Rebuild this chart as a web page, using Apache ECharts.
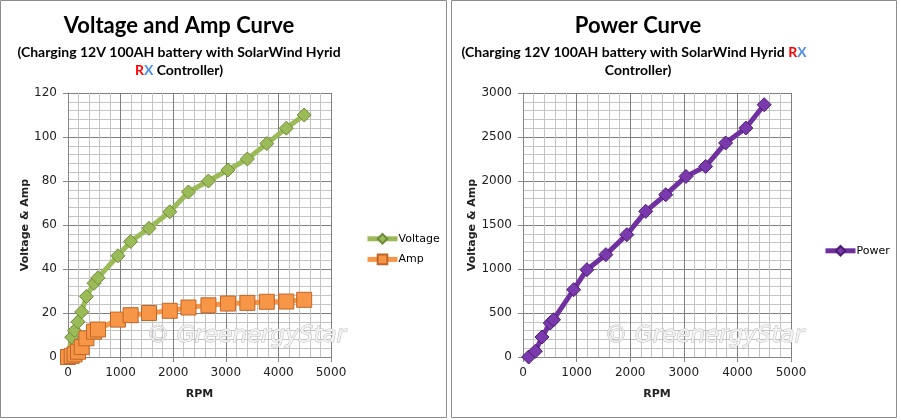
<!DOCTYPE html>
<html><head><meta charset="utf-8">
<script src="https://cdn.jsdelivr.net/npm/echarts@6/dist/echarts.min.js"></script>
<style>html,body{margin:0;padding:0;background:#fff;}#c{width:901px;height:420px;}</style>
</head><body><div id="c"></div>
<script>
// Left chart: RPM vs Voltage and Amp
const rpmVA = [0, 70, 125, 190, 260, 350, 495, 570, 950, 1190, 1540, 1935, 2290, 2670, 3040, 3410, 3780, 4150, 4490];
const voltage = [0, 9, 12, 16, 20.5, 27.5, 33.5, 36, 46, 52.5, 58.5, 66, 75, 80, 85, 90, 97, 104, 110];
const amp = [0, 0.5, 1.2, 2.4, 4.5, 8.5, 11.5, 12.5, 17, 19, 20, 21, 22.5, 23.5, 24.3, 24.6, 25.1, 25.2, 26];
// Right chart: RPM vs Power
const rpmP = [105, 230, 355, 508, 570, 945, 1192, 1546, 1937, 2290, 2663, 3041, 3408, 3780, 4158, 4500];
const power = [0, 65, 227, 386, 424, 765, 992, 1163, 1390, 1655, 1844, 2052, 2166, 2432, 2602, 2867];
// Axis settings
const xTicks = {min: 0, max: 5000, interval: 1000};
const yTicksVA = {min: 0, max: 120, interval: 20};
const yTicksP = {min: 0, max: 3000, interval: 500};

const zip = (xs, ys) => xs.map((x, i) => [x, ys[i]]);
const labelFont = 'DejaVu Sans';
const titleFont = 'Lato';
const plain = v => String(v);

function xAx(gi){
  return {gridIndex: gi, type: 'value', ...xTicks, name: 'RPM', nameLocation: 'middle', nameGap: 32,
    nameTextStyle: {fontFamily: labelFont, fontWeight: 'bold', fontSize: 11, color: '#222'},
    axisLine: {show: true, lineStyle: {color: '#868686'}},
    axisTick: {show: true, length: 5, inside: false, lineStyle: {color: '#868686'}},
    axisLabel: {fontFamily: labelFont, fontSize: 12, color: '#222', margin: 10, formatter: plain},
    splitLine: {show: true, lineStyle: {color: '#7f7f7f', width: 1}},
    minorTick: {show: true, splitNumber: 5, length: 0},
    minorSplitLine: {show: true, lineStyle: {color: '#c4c4c4', width: 1}}};
}
function yAx(gi, t){
  return {gridIndex: gi, type: 'value', ...t, name: 'Voltage & Amp', nameLocation: 'middle', nameGap: gi===0?37:44, nameRotate: 90,
    nameTextStyle: {fontFamily: labelFont, fontWeight: 'bold', fontSize: 11, color: '#222'},
    axisLine: {show: true, lineStyle: {color: '#868686'}},
    axisTick: {show: true, length: 5, inside: false, lineStyle: {color: '#868686'}},
    axisLabel: {fontFamily: labelFont, fontSize: 12, color: '#222', margin: 11, formatter: plain},
    splitLine: {show: true, lineStyle: {color: '#7f7f7f', width: 1}},
    minorTick: {show: true, splitNumber: 5, length: 0},
    minorSplitLine: {show: true, lineStyle: {color: '#c4c4c4', width: 1}}};
}
function wm(x, y){
  return {type: 'text', left: x, top: y, z: 1, silent: true,
    style: {text: '\u00a9 GreenergyStar', fontFamily: 'DejaVu Sans', fontStyle: 'italic', fontSize: 23,
      fill: '#f2f2f2', stroke: '#bcbcbc', lineWidth: 1, shadowColor: 'rgba(0,0,0,0.2)', shadowBlur: 3, shadowOffsetX: 1, shadowOffsetY: 1}};
}
const subRich = {
  a: {fontFamily: titleFont, fontWeight: 'bold', fontSize: 14, fill: '#000', color: '#000'},
  r: {fontFamily: titleFont, fontWeight: 'bold', fontSize: 14, fill: '#ff0000', color: '#ff0000'},
  x: {fontFamily: titleFont, fontWeight: 'bold', fontSize: 14, fill: '#4f8fe0', color: '#4f8fe0'}
};
function ctext(cx, y, text, size){
  return {type: 'text', x: cx, y: y, style: {text: text, rich: subRich, fontFamily: titleFont, fontWeight: 'bold',
    fontSize: size, fill: '#000', align: 'center', verticalAlign: 'middle'}};
}

const chart = echarts.init(document.getElementById('c'), null, {renderer: 'canvas'});
chart.setOption({
  animation: false,
  backgroundColor: '#fff',
  grid: [
    {left: 68, top: 93, width: 263, height: 264, containLabel: false},
    {left: 523, top: 93, width: 268, height: 264, containLabel: false}
  ],
  xAxis: [xAx(0), xAx(1)],
  yAxis: [yAx(0, yTicksVA), yAx(1, yTicksP)],
  legend: [
    {data: ['Voltage', 'Amp'], orient: 'vertical', left: 360, top: 228, itemWidth: 30, itemHeight: 12, itemGap: 9,
      lineStyle: {width: 5}, textStyle: {fontFamily: labelFont, fontSize: 11, color: '#000', padding: [0, 0, 0, -4]}},
    {data: ['Power'], orient: 'vertical', left: 818, top: 240, itemWidth: 30, itemHeight: 12,
      lineStyle: {width: 5}, textStyle: {fontFamily: labelFont, fontSize: 11, color: '#000', padding: [0, 0, 0, -4]}}
  ],
  graphic: [
    {type: 'rect', shape: {x: 0.5, y: 0.5, width: 446, height: 417}, style: {fill: null, stroke: '#8c8c8c', lineWidth: 1}},
    {type: 'rect', shape: {x: 451.5, y: 0.5, width: 445, height: 417}, style: {fill: null, stroke: '#8c8c8c', lineWidth: 1}},
    ctext(179, 26, 'Voltage and Amp Curve', 22),
    ctext(179, 52, '{a|(Charging 12V 100AH battery with SolarWind Hyrid}', 14),
    ctext(179, 70, '{r|R}{x|X}{a| Controller)}', 14),
    ctext(638, 26, 'Power Curve', 22),
    ctext(634, 52, '{a|(Charging 12V 100AH battery with SolarWind Hyrid }{r|R}{x|X}', 14),
    ctext(638, 70, '{a|Controller)}', 14),
    wm(146, 324),
    wm(604, 324)
  ],
  series: [
    {name: 'Voltage', type: 'line', xAxisIndex: 0, yAxisIndex: 0, data: zip(rpmVA, voltage), z: 3,
      symbol: 'diamond', symbolSize: 14, lineStyle: {color: '#9bbb59', width: 5},
      itemStyle: {color: '#9bbb59', borderColor: '#6f8a3a', borderWidth: 1}},
    {name: 'Amp', type: 'line', xAxisIndex: 0, yAxisIndex: 0, data: zip(rpmVA, amp), z: 4,
      symbol: 'rect', symbolSize: 15, lineStyle: {color: '#f79646', width: 5},
      itemStyle: {color: '#f79646', borderColor: '#c0662a', borderWidth: 1}},
    {name: 'Power', type: 'line', xAxisIndex: 1, yAxisIndex: 1, data: zip(rpmP, power), z: 3,
      symbol: 'diamond', symbolSize: 14, lineStyle: {color: '#7030a0', width: 5},
      itemStyle: {color: '#7a3aae', borderColor: '#4b1d70', borderWidth: 1}}
  ]
});
</script></body></html>
